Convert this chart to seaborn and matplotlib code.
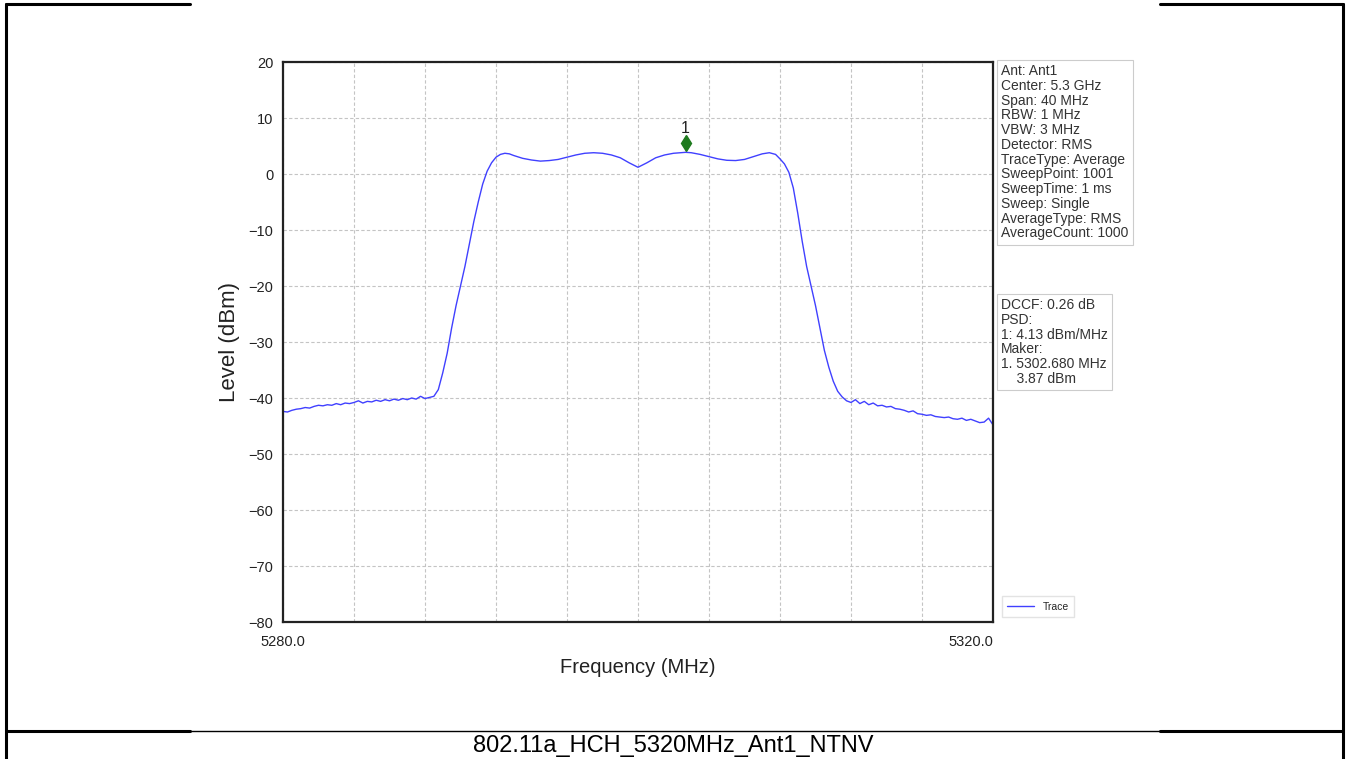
import numpy as np
import pandas as pd
import matplotlib
matplotlib.use("Agg")
import matplotlib.pyplot as plt
import matplotlib.transforms as mtransforms
from matplotlib.lines import Line2D
import seaborn as sns

# trace (MHz, dBm)
freq_mhz = [
    5280.0, 5280.25, 5280.5, 5280.75, 5281.0, 5281.25, 5281.5, 5281.75,
    5282.0, 5282.25, 5282.5, 5282.75, 5283.0, 5283.25, 5283.5, 5283.75,
    5284.0, 5284.25, 5284.5, 5284.75, 5285.0, 5285.25, 5285.5, 5285.75,
    5286.0, 5286.25, 5286.5, 5286.75, 5287.0, 5287.25, 5287.5, 5287.75,
    5288.0, 5288.25, 5288.5,
    5288.75, 5289.0, 5289.25, 5289.5, 5289.75, 5290.0, 5290.25, 5290.5,
    5290.75, 5291.0, 5291.25, 5291.5, 5291.75, 5292.0, 5292.25, 5292.5,
    5292.75, 5293.0, 5293.5, 5294.0, 5294.5, 5295.0, 5295.5, 5296.0,
    5296.5, 5297.0, 5297.5, 5298.0, 5298.5, 5299.0, 5299.5, 5300.0,
    5300.5, 5301.0, 5301.5, 5302.0, 5302.68, 5303.0, 5303.5, 5304.0,
    5304.5, 5305.0, 5305.5, 5306.0, 5306.5, 5307.0, 5307.4, 5307.75,
    5308.0, 5308.25, 5308.5, 5308.75, 5309.0, 5309.25, 5309.5, 5309.75,
    5310.0, 5310.25, 5310.5, 5310.75, 5311.0, 5311.25, 5311.5, 5311.75,
    5312.0, 5312.25, 5312.5, 5312.75, 5313.0, 5313.25, 5313.5, 5313.75,
    5314.0, 5314.25, 5314.5, 5314.75, 5315.0, 5315.25, 5315.5, 5315.75,
    5316.0, 5316.25, 5316.5, 5316.75, 5317.0, 5317.25, 5317.5, 5317.75,
    5318.0, 5318.25, 5318.5, 5318.75, 5319.0, 5319.25, 5319.5, 5319.75,
    5320.0,
]
level_dbm = [
    -42.4, -42.5, -42.2, -42.0, -41.9, -41.7, -41.8, -41.5,
    -41.3, -41.4, -41.2, -41.3, -41.0, -41.2, -40.9, -41.0,
    -40.8, -40.5, -40.9, -40.6, -40.7, -40.4, -40.6, -40.3,
    -40.5, -40.2, -40.4, -40.1, -40.3, -40.0, -40.2, -39.7,
    -40.1, -39.9, -39.7,
    -38.5, -35.5, -32.0, -27.5, -23.5, -20.0, -16.5, -12.5,
    -8.5, -5.0, -1.8, 0.5, 2.0, 3.0, 3.5, 3.7,
    3.6, 3.3, 2.8, 2.5, 2.3, 2.4, 2.6, 3.0,
    3.4, 3.7, 3.8, 3.7, 3.4, 2.9, 2.0, 1.2,
    2.0, 2.9, 3.4, 3.7, 3.87, 3.8, 3.5, 3.1,
    2.7, 2.45, 2.4, 2.6, 3.1, 3.6, 3.8, 3.5,
    2.7, 1.8, 0.3, -2.5, -7.0, -12.0, -16.5, -20.0,
    -23.5, -27.5, -31.5, -34.5, -37.0, -38.8, -39.8, -40.5,
    -40.8, -40.3, -41.0, -40.6, -41.2, -40.9, -41.4, -41.3,
    -41.6, -41.5, -41.9, -42.0, -42.2, -42.5, -42.3, -42.8,
    -42.9, -43.1, -43.0, -43.3, -43.4, -43.5, -43.4, -43.7,
    -43.8, -43.6, -44.0, -43.8, -44.1, -44.4, -44.3, -43.6,
    -44.8,
]
marker_freq = 5302.68
marker_level = 3.87

x_ticks = [5280, 5284, 5288, 5292, 5296, 5300, 5304, 5308, 5312, 5316, 5320]
y_ticks = [20, 10, 0, -10, -20, -30, -40, -50, -60, -70, -80]

info_lines = [
    "Ant: Ant1", "Center: 5.3 GHz", "Span: 40 MHz", "RBW: 1 MHz",
    "VBW: 3 MHz", "Detector: RMS", "TraceType: Average", "SweepPoint: 1001",
    "SweepTime: 1 ms", "Sweep: Single", "AverageType: RMS",
    "AverageCount: 1000",
]
result_lines = [
    "DCCF: 0.26 dB", "PSD:", "1: 4.13 dBm/MHz", "Maker:",
    "1. 5302.680 MHz", "    3.87 dBm",
]
caption = "802.11a_HCH_5320MHz_Ant1_NTNV"

sns.set_theme(style="white")
plt.rcParams["font.family"] = ["Liberation Sans", "DejaVu Sans"]

df = pd.DataFrame({"Frequency": freq_mhz, "Level": level_dbm})

W, H = 1346, 759
fig = plt.figure(figsize=(W / 100, H / 100), dpi=100)
ax = fig.add_axes([283 / W, 1 - 622 / H, 710 / W, 560 / H])

sns.lineplot(data=df, x="Frequency", y="Level", ax=ax, color="#4040ff",
             linewidth=1.0, label="Trace", sort=False)

# marker diamond sits a little above the trace
off = mtransforms.offset_copy(ax.transData, fig=fig, x=0, y=9, units="dots")
ax.plot([marker_freq], [marker_level], marker="d", color="#1e7a1e",
        markersize=8, transform=off, linestyle="none")
ax.annotate("1", (marker_freq, marker_level), xytext=(0, 12),
            textcoords="offset points", ha="center", va="bottom",
            fontsize=11.5, color="#222222")

ax.set_xlim(5280, 5320)
ax.set_ylim(-80, 20)
ax.set_xticks(x_ticks)
ax.set_yticks(y_ticks)
xlabels = ["5280.0"] + [""] * (len(x_ticks) - 2) + ["5320.0"]
ax.set_xticklabels(xlabels)
ax.set_yticklabels([str(v).replace("-", "\u2212") for v in y_ticks])
labs = ax.get_xticklabels()
labs[-1].set_horizontalalignment("right")
ax.tick_params(axis="both", direction="out", length=4, width=1,
               colors="#333333", labelsize=10.5, labelcolor="#222222", pad=3)
ax.tick_params(axis="x", pad=5)
ax.grid(True, color="#c4c4c4", linestyle=(0, (3, 2)), linewidth=0.8)
for sp in ax.spines.values():
    sp.set_color("#222222")
    sp.set_linewidth(1.6)

ax.set_xlabel("Frequency (MHz)", fontsize=14.5, labelpad=7, color="#222222")
ax.set_ylabel("Level (dBm)", fontsize=16, labelpad=6, color="#222222")

ax.legend(loc="lower left", bbox_to_anchor=(1.005, 0.0), fontsize=7.5,
          frameon=True, edgecolor="#dddddd", handlelength=2.6,
          borderpad=0.5, fancybox=False)

box = dict(boxstyle="square,pad=0.3", fc="white", ec="#cccccc", lw=0.8)
fig.text(1001 / W, 1 - 64 / H, "\n".join(info_lines), ha="left", va="top",
         fontsize=10, color="#333333", linespacing=1.07, bbox=box)
fig.text(1001 / W, 1 - 298 / H, "\n".join(result_lines), ha="left", va="top",
         fontsize=10, color="#333333", linespacing=1.07, bbox=box)

# page frame around the picture
def frame_line(xs, ys, lw):
    fig.add_artist(Line2D([x / W for x in xs], [1 - y / H for y in ys],
                          color="black", linewidth=lw))

frame_line([6, 6], [4, 759], 2.2)
frame_line([1343, 1343], [4, 759], 2.2)
frame_line([6, 190], [4, 4], 2.2)
frame_line([1160, 1343], [4, 4], 2.2)
frame_line([6, 190], [731, 731], 2.2)
frame_line([1160, 1343], [731, 731], 2.2)
frame_line([190, 1160], [731, 731], 1.0)

fig.text(673 / W, 1 - 746 / H, caption, ha="center", va="center",
         fontsize=17, color="black")

fig.savefig("out.png", dpi=100, facecolor="white")
